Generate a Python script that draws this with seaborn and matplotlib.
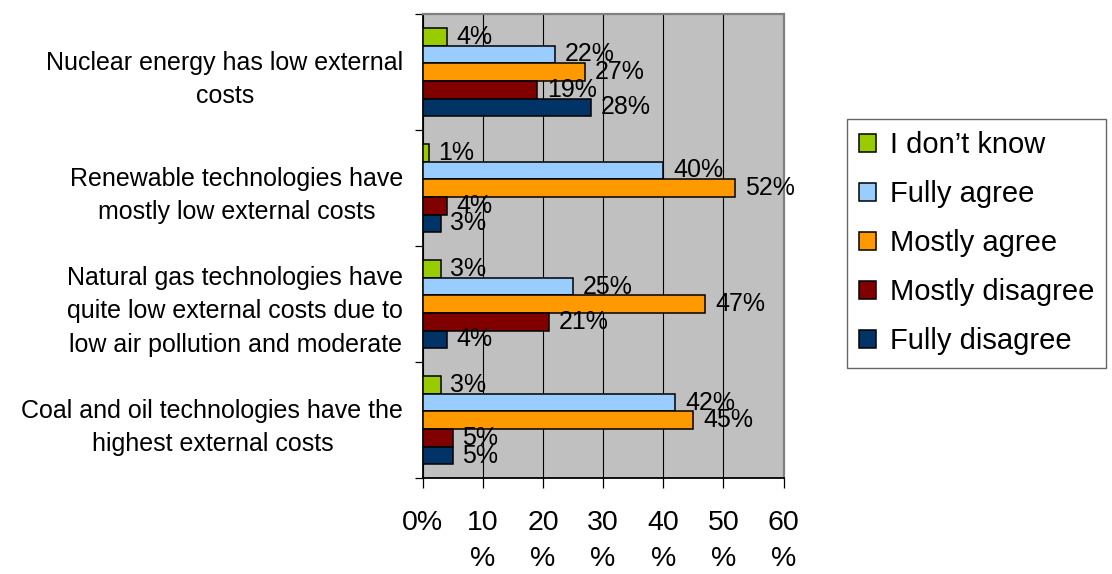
import matplotlib
matplotlib.use("Agg")
import matplotlib.pyplot as plt
import seaborn as sns
import pandas as pd
from matplotlib.ticker import FixedLocator

# Survey statements (categories on the vertical axis, top to bottom)
statements = [
    "Nuclear energy has low external\ncosts",
    "Renewable technologies have\nmostly low external costs",
    "Natural gas technologies have\nquite low external costs due to\nlow air pollution and moderate",
    "Coal and oil technologies have the\nhighest external costs",
]

# Response options, in the order they are stacked inside each group
responses = ["I don\u2019t know", "Fully agree", "Mostly agree", "Mostly disagree", "Fully disagree"]

# Share of respondents (%) per statement, one list per response
dont_know = [4, 1, 3, 3]
fully_agree = [22, 40, 25, 42]
mostly_agree = [27, 52, 47, 45]
mostly_disagree = [19, 4, 21, 5]
fully_disagree = [28, 3, 4, 5]

colors = ["#99CC00", "#99CCFF", "#FF9900", "#800000", "#003366"]

x_ticks = [0, 10, 20, 30, 40, 50, 60]
x_tick_labels = ["0%", "10\n%", "20\n%", "30\n%", "40\n%", "50\n%", "60\n%"]

series = [dont_know, fully_agree, mostly_agree, mostly_disagree, fully_disagree]
rows = []
for resp, vals in zip(responses, series):
    for stmt, v in zip(statements, vals):
        rows.append({"statement": stmt, "response": resp, "value": v})
df = pd.DataFrame(rows)

plt.rcParams["font.family"] = ["Liberation Sans", "DejaVu Sans"]

fig = plt.figure(figsize=(11.12, 5.74), dpi=100)
W, H = 1112, 574
left, right, top, bottom = 422.7, 783.5, 14.0, 478.3
ax = fig.add_axes([left / W, (H - bottom) / H, (right - left) / W, (bottom - top) / H])

sns.barplot(
    data=df, x="value", y="statement", hue="response",
    order=statements, hue_order=responses, palette=colors,
    orient="h", width=0.76, saturation=1, edgecolor="black", linewidth=1.1,
    errorbar=None, ax=ax, zorder=3,
)

ax.set_facecolor("#C0C0C0")
ax.set_xlim(0, 60)
ax.set_ylim(3.5, -0.5)
ax.set_xlabel("")
ax.set_ylabel("")

# vertical gridlines
ax.set_axisbelow(True)
ax.xaxis.grid(True, color="black", linewidth=0.8)
ax.yaxis.grid(False)

# x axis ticks and labels
ax.set_xticks(x_ticks)
ax.set_xticklabels(x_tick_labels, fontsize=20.5, linespacing=1.5)
ax.tick_params(axis="x", direction="out", length=7.5, width=0.9, color="black", pad=15)

# y axis: labels at group centers, tick marks at group boundaries
ax.tick_params(axis="y", which="major", length=0, pad=14)
ax.yaxis.set_minor_locator(FixedLocator([-0.5, 0.5, 1.5, 2.5, 3.5]))
ax.tick_params(axis="y", which="minor", direction="out", length=5.5, width=0.9, color="black")
for lbl in ax.get_yticklabels():
    lbl.set_fontsize(18)
    lbl.set_multialignment("center")
    lbl.set_linespacing(1.5)

for side in ["left", "bottom"]:
    ax.spines[side].set_color("black")
    ax.spines[side].set_linewidth(1.3)
for side in ["top", "right"]:
    ax.spines[side].set_color("#808080")
    ax.spines[side].set_linewidth(1.6)

# value labels at bar ends
for cont, vals in zip(ax.containers, series):
    ax.bar_label(cont, labels=[f"{v}%" for v in vals], padding=7, fontsize=18, color="black")

handles, labels = ax.get_legend_handles_labels()
if ax.get_legend() is not None:
    ax.get_legend().remove()
leg = fig.legend(
    handles, labels, loc="upper left",
    bbox_to_anchor=(846.7 / W, 1 - 119 / H), bbox_transform=fig.transFigure,
    fontsize=21, frameon=True, fancybox=False, shadow=False,
    handlelength=0.6, handleheight=0.6, handletextpad=0.45,
    labelspacing=0.72, borderpad=0.42, borderaxespad=0,
)
leg.get_frame().set_edgecolor("#404040")
leg.get_frame().set_linewidth(1.0)
for h in leg.legend_handles:
    h.set_edgecolor("black")
    h.set_linewidth(1.1)

fig.savefig("out.png", dpi=100, facecolor="white")
